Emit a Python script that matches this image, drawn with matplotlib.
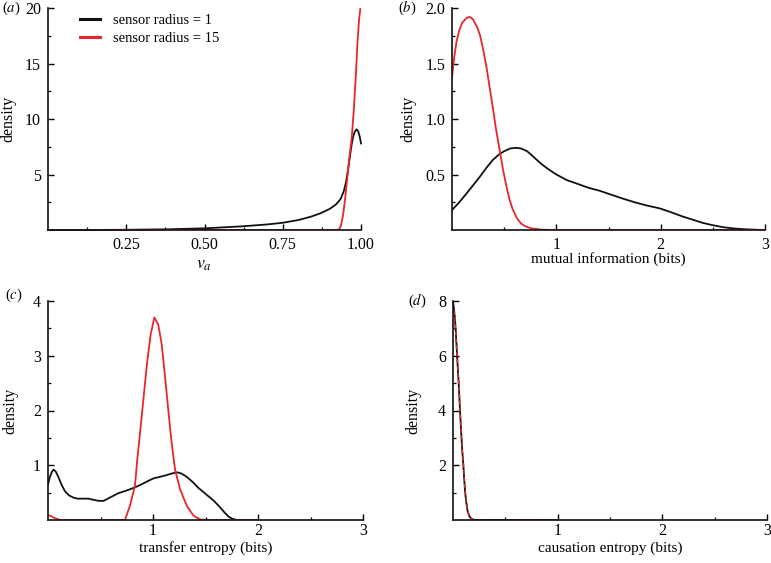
import matplotlib
matplotlib.use('Agg')
import matplotlib.pyplot as plt
from matplotlib.lines import Line2D

plt.rcParams['font.family'] = ['Liberation Serif', 'DejaVu Serif']
plt.rcParams['mathtext.fontset'] = 'stix'
plt.rcParams['font.size'] = 9

RED = '#e8262b'
BLACK = '#111111'
LEGEND_LABELS = ['sensor radius = 1', 'sensor radius = 15']

# panel (a): v_a
va_black_x = [0.0, 0.10, 0.25, 0.38, 0.50, 0.62, 0.70, 0.75, 0.80, 0.84, 0.87, 0.90, 0.92, 0.935,
              0.945, 0.952, 0.959, 0.965, 0.970, 0.975, 0.980, 0.986, 0.991, 0.996, 1.0]
va_black_y = [0.0, 0.0, 0.02, 0.06, 0.15, 0.33, 0.5, 0.65, 0.9, 1.2, 1.5, 1.9, 2.3, 2.8,
              3.5, 4.3, 5.5, 6.7, 7.7, 8.4, 8.85, 9.07, 8.9, 8.4, 7.8]
va_red_x = [0.0, 0.92, 0.930, 0.936, 0.943, 0.950, 0.957, 0.963, 0.967, 0.970, 0.977, 0.984,
            0.989, 0.994, 0.998, 1.0]
va_red_y = [0.0, 0.0, 0.05, 0.4, 1.4, 3.0, 4.9, 6.6, 7.5, 8.2, 10.8, 14.2, 17.0, 19.0, 20.0, 20.4]

# panel (b): mutual information
mi_black_x = [0.0, 0.07, 0.14, 0.20, 0.267, 0.33, 0.39, 0.45, 0.50, 0.56, 0.61, 0.66, 0.72, 0.78,
              0.85, 0.92, 1.0, 1.1, 1.22, 1.31, 1.41, 1.52, 1.63, 1.75, 1.87, 1.99, 2.1, 2.2,
              2.3, 2.4, 2.49, 2.6, 2.71, 2.8, 2.9, 3.0]
mi_black_y = [0.18, 0.25, 0.33, 0.40, 0.48, 0.56, 0.63, 0.68, 0.71, 0.735, 0.74, 0.735, 0.71, 0.66,
              0.60, 0.55, 0.50, 0.45, 0.41, 0.38, 0.355, 0.32, 0.285, 0.25, 0.22, 0.195, 0.16, 0.125,
              0.095, 0.065, 0.045, 0.025, 0.013, 0.007, 0.003, 0.0]
mi_red_x = [0.0, 0.02, 0.044, 0.07, 0.10, 0.14, 0.17, 0.20, 0.24, 0.27, 0.30, 0.33, 0.36, 0.39,
            0.42, 0.46, 0.49, 0.52, 0.55, 0.58, 0.62, 0.66, 0.70, 0.76, 0.85, 0.95, 3.0]
mi_red_y = [1.37, 1.55, 1.70, 1.80, 1.87, 1.91, 1.92, 1.90, 1.83, 1.75, 1.62, 1.47, 1.29, 1.11,
            0.92, 0.70, 0.54, 0.40, 0.28, 0.19, 0.11, 0.06, 0.035, 0.015, 0.004, 0.0, 0.0]

# panel (c): transfer entropy
te_black_x = [0.0, 0.02, 0.04, 0.055, 0.075, 0.10, 0.13, 0.16, 0.20, 0.24, 0.28, 0.33, 0.385, 0.43,
              0.48, 0.53, 0.58, 0.62, 0.67, 0.72, 0.78, 0.845, 0.90, 0.95, 1.005, 1.07, 1.13,
              1.18, 1.23, 1.27, 1.32, 1.38, 1.43, 1.48, 1.53, 1.58, 1.63, 1.68, 1.72, 1.76, 1.80, 2.0]
te_black_y = [0.65, 0.80, 0.89, 0.92, 0.88, 0.78, 0.64, 0.53, 0.45, 0.41, 0.39, 0.39, 0.39, 0.37,
              0.35, 0.35, 0.40, 0.44, 0.49, 0.52, 0.56, 0.61, 0.66, 0.71, 0.76, 0.79, 0.82,
              0.85, 0.87, 0.85, 0.79, 0.69, 0.59, 0.51, 0.43, 0.35, 0.25, 0.14, 0.06, 0.02, 0.0, 0.0]
te_red_x = [0.0, 0.03, 0.06, 0.09, 0.12, 0.70, 0.733, 0.78, 0.828, 0.85, 0.876, 0.914, 0.946, 0.978,
            1.013, 1.05, 1.083, 1.115, 1.146, 1.178, 1.21, 1.258, 1.322, 1.353, 1.385, 1.45, 1.50, 2.0]
te_red_y = [0.09, 0.07, 0.04, 0.015, 0.0, 0.0, 0.0, 0.26, 0.62, 1.10, 1.58, 2.31, 2.91, 3.39,
            3.70, 3.57, 3.21, 2.61, 2.0, 1.40, 0.92, 0.56, 0.26, 0.17, 0.08, 0.01, 0.0, 0.0]

# panel (d): causation entropy
ce_black_x = [0.0, 0.01, 0.02, 0.035, 0.045, 0.057, 0.067, 0.076, 0.087, 0.099, 0.107, 0.115,
              0.125, 0.14, 0.155, 0.172, 0.19, 0.21, 1.0]
ce_black_y = [8.0, 7.7, 7.3, 6.3, 5.6, 4.8, 4.0, 3.33, 2.6, 2.0, 1.5, 1.06, 0.7, 0.32, 0.15,
              0.06, 0.02, 0.0, 0.0]
ce_red_x = [0.0, 0.01, 0.02, 0.035, 0.045, 0.057, 0.067, 0.076, 0.087, 0.099, 0.107, 0.115,
            0.125, 0.14, 0.155, 0.172, 0.19, 0.21, 1.0]
ce_red_y = [7.9, 7.65, 7.25, 6.3, 5.6, 4.85, 4.05, 3.35, 2.65, 2.05, 1.55, 1.1, 0.72, 0.34, 0.16,
            0.06, 0.02, 0.0, 0.0]

W, H = 771, 563
fig = plt.figure(figsize=(W / 100, H / 100), dpi=100)


def axes_px(x0, x1, y_top, y_bot):
    return fig.add_axes([x0 / W, 1 - y_bot / H, (x1 - x0) / W, (y_bot - y_top) / H])


def style(ax, xlim, ylim, xt, xtl, xminor, yt, ytl, yminor, xpad=5):
    ax.set_xlim(*xlim)
    ax.set_ylim(*ylim)
    for s in ['top', 'right']:
        ax.spines[s].set_visible(False)
    for s in ['left', 'bottom']:
        ax.spines[s].set_linewidth(1.2)
        ax.spines[s].set_color(BLACK)
    ax.set_xticks(xt)
    ax.set_xticklabels(xtl)
    ax.set_xticks(xminor, minor=True)
    ax.set_yticks(yt)
    ax.set_yticklabels(ytl)
    ax.set_yticks(yminor, minor=True)
    ax.tick_params(which='major', direction='in', length=4.5, width=1.0, pad=5, labelsize=11.5)
    ax.tick_params(axis='x', which='major', pad=xpad)
    ax.tick_params(which='minor', direction='in', length=2.5, width=0.9)
    ax.set_ylabel('density', fontsize=11.5)
    ax.patch.set_alpha(0)


lw = 1.3

# (a)
ax = axes_px(48, 361, 8, 230)
ax.plot(va_black_x, va_black_y, color=BLACK, lw=lw, clip_on=False)
ax.plot(va_red_x, va_red_y, color=RED, lw=lw)
style(ax, (0, 1), (0, 20), [0.25, 0.5, 0.75, 1.0], ['0.25', '0.50', '0.75', '1.00'],
      [0.125, 0.375, 0.625, 0.875], [5, 10, 15, 20], ['5', '10', '15', '20'], [2.5, 7.5, 12.5, 17.5])
ax.set_xlabel(r'$v_a$', fontsize=13)
ax.xaxis.set_label_coords(0.5, -0.115)
ax.yaxis.set_label_coords(-0.10, 0.5)
handles = [Line2D([], [], color=BLACK, lw=2.2), Line2D([], [], color=RED, lw=2.2)]
ax.legend(handles, LEGEND_LABELS, loc='upper left', bbox_to_anchor=(0.102, 0.975), frameon=False,
          borderpad=0, borderaxespad=0, handlelength=1.4, handletextpad=0.85, labelspacing=0.35,
          fontsize=10.5)

# (b)
ax = axes_px(452, 765, 8, 230)
ax.plot(mi_black_x, mi_black_y, color=BLACK, lw=lw)
ax.plot(mi_red_x, mi_red_y, color=RED, lw=lw)
style(ax, (0, 3), (0, 2), [1, 2, 3], ['1', '2', '3'], [0.5, 1.5, 2.5],
      [0.5, 1.0, 1.5, 2.0], ['0.5', '1.0', '1.5', '2.0'], [0.25, 0.75, 1.25, 1.75])
ax.set_xlabel('mutual information (bits)', fontsize=11)
ax.xaxis.set_label_coords(0.5, -0.1)
ax.yaxis.set_label_coords(-0.115, 0.5)

# (c)
ax = axes_px(48, 363, 301, 520)
ax.plot(te_black_x, te_black_y, color=BLACK, lw=lw)
ax.plot(te_red_x, te_red_y, color=RED, lw=lw)
style(ax, (0, 3), (0, 4), [1, 2, 3], ['1', '2', '3'], [0.5, 1.5, 2.5],
      [1, 2, 3, 4], ['1', '2', '3', '4'], [0.5, 1.5, 2.5, 3.5], xpad=2.5)
ax.set_xlabel('transfer entropy (bits)', fontsize=11)
ax.xaxis.set_label_coords(0.5, -0.097)
ax.yaxis.set_label_coords(-0.095, 0.5)

# (d)
ax = axes_px(453, 767, 301, 520)
ax.plot(ce_black_x, ce_black_y, color=BLACK, lw=lw)
ax.plot(ce_red_x, ce_red_y, color=RED, lw=1.0, dashes=(3, 2))
style(ax, (0, 3), (0, 8), [1, 2, 3], ['1', '2', '3'], [0.5, 1.5, 2.5],
      [2, 4, 6, 8], ['2', '4', '6', '8'], [1, 3, 5, 7], xpad=2.5)
ax.set_xlabel('causation entropy (bits)', fontsize=11)
ax.xaxis.set_label_coords(0.5, -0.097)
ax.yaxis.set_label_coords(-0.102, 0.5)

# panel letters
for lab, px, py in [('a', 2, 8), ('b', 398, 8), ('c', 5, 295), ('d', 408, 301)]:
    fig.text(px / W, 1 - py / H, '(' + r'$\mathit{' + lab + '}$' + ')', fontsize=10.5,
             ha='left', va='center')

fig.savefig('out.png', dpi=100)
